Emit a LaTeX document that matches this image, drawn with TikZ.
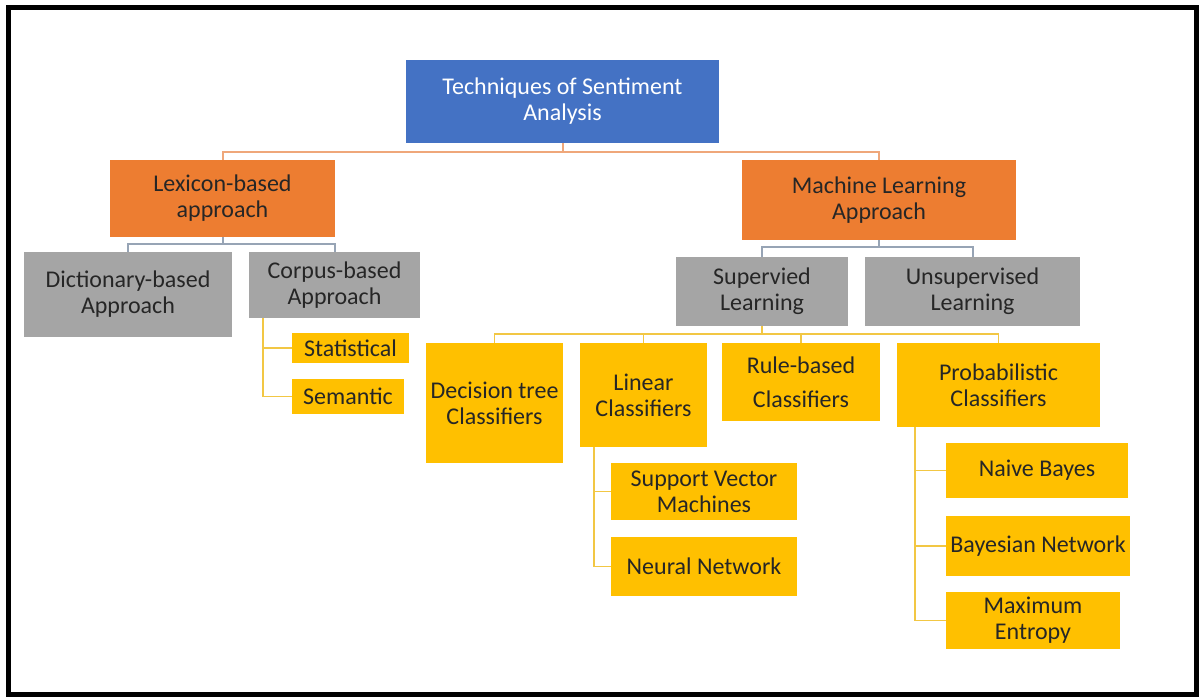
\documentclass[tikz,border=0pt]{standalone}
\usepackage{fontspec}
\setmainfont{Carlito}
\definecolor{cblue}{HTML}{4472C4}
\definecolor{corange}{HTML}{ED7D31}
\definecolor{cgray}{HTML}{A5A5A5}
\definecolor{cyellow}{HTML}{FFC000}
\definecolor{ctext}{HTML}{262626}
\definecolor{lorange}{HTML}{EFA77A}
\definecolor{lgray}{HTML}{97A4B5}
\definecolor{lyellow}{HTML}{F2C744}
\tikzset{
  box/.style={inner sep=0pt, align=center, text=ctext, font=\fontsize{24}{26}\selectfont},
  bluebox/.style={box, fill=cblue, text=white},
  orangebox/.style={box, fill=corange},
  graybox/.style={box, fill=cgray},
  yellowbox/.style={box, fill=cyellow},
  oline/.style={draw=lorange, line width=2pt},
  gline/.style={draw=lgray, line width=2pt},
  yline/.style={draw=lyellow, line width=1.8pt},
}
\begin{document}
\begin{tikzpicture}[x=1pt,y=-1pt]
\useasboundingbox (0,0) rectangle (1203,700);
\fill[white] (0,0) rectangle (1203,700);
\draw[black, line width=5pt] (8,8) rectangle (1196,694);

\node[bluebox, minimum width=313pt, minimum height=83pt] (top) at (562.5,101.5) {Techniques of Sentiment\\Analysis};
\node[orangebox, minimum width=225pt, minimum height=77pt] (lex) at (222.5,198.5) {Lexicon-based\\approach};
\node[orangebox, minimum width=274pt, minimum height=80pt] (ml) at (879,200) {Machine Learning\\Approach};
\node[graybox, minimum width=208pt, minimum height=85pt] (dict) at (128,294.5) {Dictionary-based\\Approach};
\node[graybox, minimum width=171pt, minimum height=66pt] (corp) at (334.5,285) {Corpus-based\\Approach};
\node[graybox, minimum width=172pt, minimum height=69pt] (sup) at (762,291.5) {Supervied\\Learning};
\node[graybox, minimum width=215pt, minimum height=69pt] (uns) at (972.5,291.5) {Unsupervised\\Learning};
\node[yellowbox, minimum width=137pt, minimum height=120pt] (dec) at (494.5,403) {Decision tree\\Classifiers};
\node[yellowbox, minimum width=127pt, minimum height=104pt] (lin) at (643.5,395) {Linear\\Classifiers};
\node[yellowbox, minimum width=158pt, minimum height=78pt] (rule) at (801,382) {Rule-based\\[8pt]Classifiers};
\node[yellowbox, minimum width=203pt, minimum height=84pt] (prob) at (998.5,385) {Probabilistic\\Classifiers};
\node[yellowbox, minimum width=186pt, minimum height=57pt] (svm) at (704,491.5) {Support Vector\\Machines};
\node[yellowbox, minimum width=186pt, minimum height=59pt] (nn) at (704,566.5) {Neural Network};
\node[yellowbox, minimum width=182pt, minimum height=55pt] (nb) at (1037,470.5) {Naive Bayes};
\node[yellowbox, minimum width=184pt, minimum height=60pt] (bn) at (1038,546) {Bayesian Network};
\node[yellowbox, minimum width=174pt, minimum height=57pt] (me) at (1033,620.5) {Maximum\\Entropy};
\node[yellowbox, minimum width=117pt, minimum height=30pt] (stat) at (350.5,348) {Statistical};
\node[yellowbox, minimum width=112pt, minimum height=35pt] (sem) at (348,396.5) {Semantic};

\draw[oline] (top.south) -- ++(0,8.5) -| (lex.north);
\draw[oline] (top.south) -- ++(0,8.5) -| (ml.north);
\draw[gline] (lex.south) -- ++(0,7) -| (dict.north);
\draw[gline] (lex.south) -- ++(0,7) -| (corp.north);
\draw[gline] (ml.south) -- ++(0,7) -| (sup.north);
\draw[gline] (ml.south) -- ++(0,7) -| (uns.north);
\draw[yline] (sup.south) -- ++(0,8) -| (dec.north);
\draw[yline] (sup.south) -- ++(0,8) -| (lin.north);
\draw[yline] (sup.south) -- ++(0,8) -| (rule.north);
\draw[yline] (sup.south) -- ++(0,8) -| (prob.north);
\draw[yline] ([xshift=14pt]corp.south west) |- (stat.west);
\draw[yline] ([xshift=14pt]corp.south west) |- (sem.west);
\draw[yline] ([xshift=14pt]lin.south west) |- (svm.west);
\draw[yline] ([xshift=14pt]lin.south west) |- (nn.west);
\draw[yline] ([xshift=18pt]prob.south west) |- (nb.west);
\draw[yline] ([xshift=18pt]prob.south west) |- (bn.west);
\draw[yline] ([xshift=18pt]prob.south west) |- (me.west);
\end{tikzpicture}
\end{document}
